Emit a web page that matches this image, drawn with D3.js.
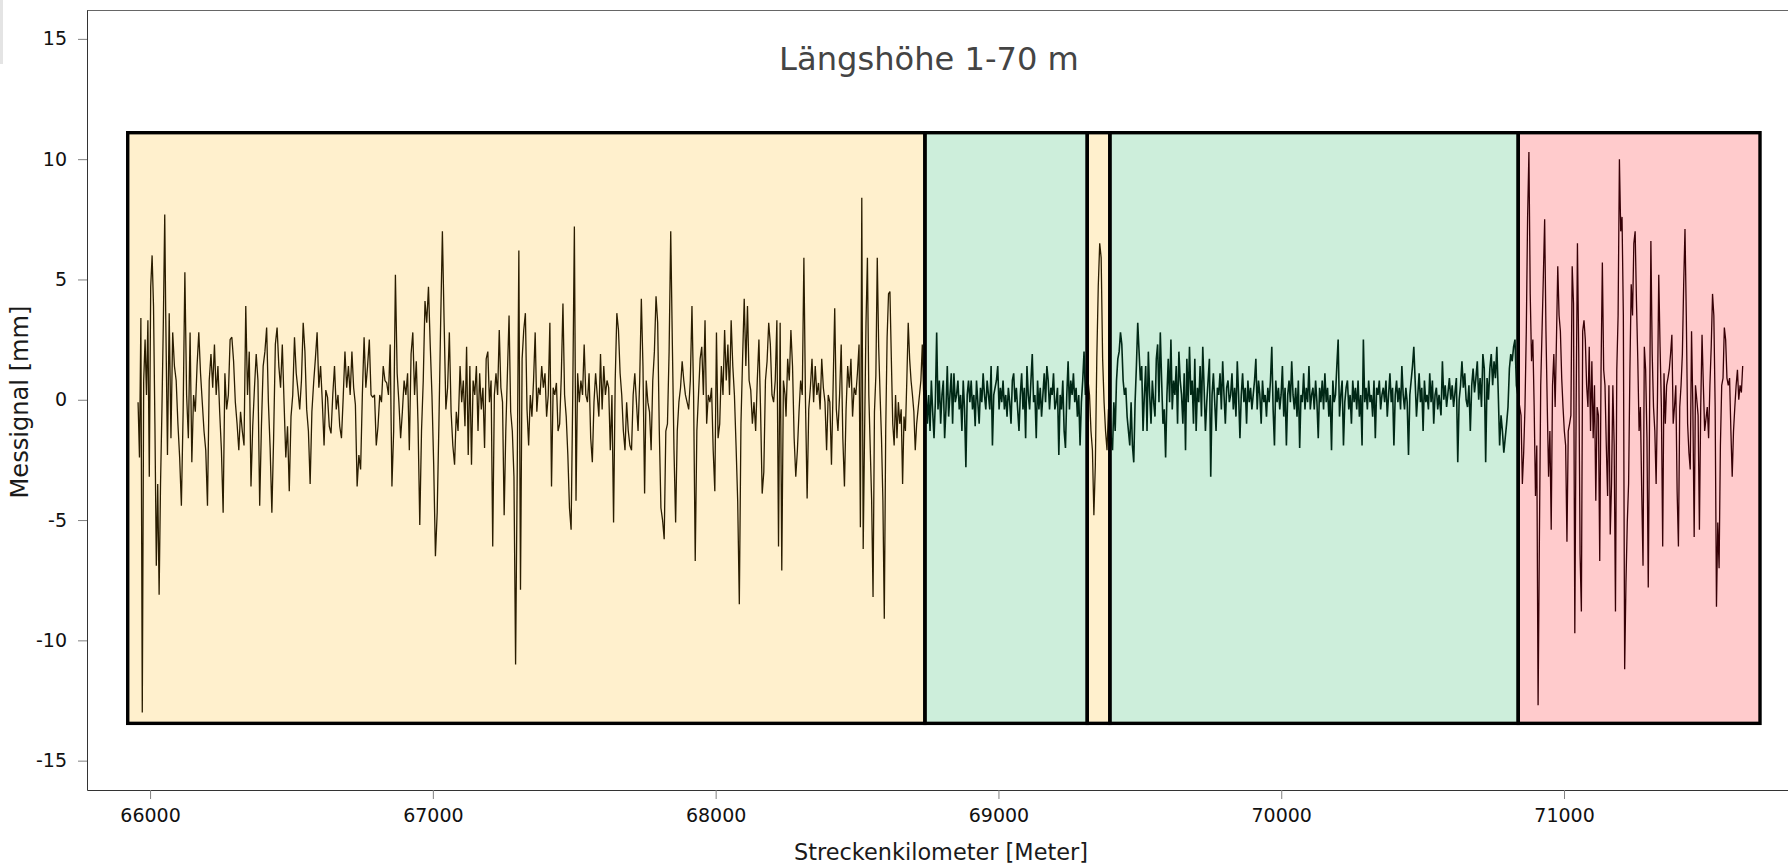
<!DOCTYPE html>
<html><head><meta charset="utf-8">
<script src="https://cdn.jsdelivr.net/npm/d3@7"></script>
<style>
html,body{margin:0;padding:0;background:#fff;overflow:hidden}
svg{display:block}
text{font-family:"DejaVu Sans",Verdana,sans-serif}
</style></head><body>
<svg id="chart" width="1788" height="866"></svg>
<script>
// ---------- texts & ticks ----------
const chartTitle = "Längshöhe 1-70 m";
const xTitle = "Streckenkilometer [Meter]";
const yTitle = "Messignal [mm]";
const xTicks = [66000, 67000, 68000, 69000, 70000, 71000];
const yTicks = [-15, -10, -5, 0, 5, 10, 15];
const xDomain = [65777, 71792];
const yDomain = [-16.22, 16.2];

// ---------- classified sections (Streckenabschnitte) ----------
const zoneStarts = [65921, 68740, 69314, 69394, 70838];
const zoneEnds   = [68740, 69314, 69394, 70838, 71693];
const zoneKinds  = ["gelb", "gruen", "gelb", "gruen", "rot"];
const zoneTop = 11.1;
const zoneBottom = -13.45;

// ---------- measured signal, in recorded sections [startKm, endKm] ----------
const sigA1 = [-0.1,-2.4,3.4,-13.0,0.8,2.5,0.2,3.3,-3.2,4.7,6.0,3.9,-1.0,-6.9,-3.5,-8.1,-3.5,-0.4,3.2,7.7];
const sigA2 = [3.5,-2.3,3.6,-1.6,2.8,1.4,0.8,-1.0,-2.4,-4.4,
-0.5,5.3,0.2,-1.6,2.8,-2.6,0.2,-0.5,1.4,2.8,
1.1,-0.1,-1.3,-2.1,-4.4,0.8,1.9,0.5,2.3,0.2,
1.4,-0.5,-2.1,-4.7,1.1,-0.4,0.2,2.5,2.6,1.6,
-0.1,-1.0,-2.1,-0.5,-1.3,-1.9,3.9,0.2,2.0,-3.6,
-1.1,0.5,1.9,0.8,-4.4,-1.1,1.4,2.0,3.0,-0.1,
-2.0,-4.7,-1.6,2.3,3.0,1.4,0.5,2.3,-0.1,-2.4,
-1.1,-3.8,-0.7,0.2,2.6,1.1,0.4,-0.4,0.8,3.2,
2.0,-0.4,-1.3,-3.5,-0.5,0.7,1.7,2.8,0.5,1.4,
-0.1,-1.9,0.4,0.1,-1.1,-1.4,0.2,1.4,-0.4,0.2,
-1.1,-1.6,0.1,2.0,0.5,1.4,0.2,2.0,0.5,-0.2,
-3.6,-2.3,-2.9,0.2,2.6,0.5,1.4,2.5,0.2,0.1,
0.2,-1.9,-1.1,0.2,-0.1,1.4,0.8,0.7,0.2,2.3,
-3.6,-1.3,5.2,1.1,-0.1,-1.6,-0.5,0.8,0.2,1.1,
-2.1,1.9,2.8,0.2,1.6,-1.0,-5.2,-1.3,0.8,4.1,
3.2,4.7,2.3,0.2,-2.7,-6.5,-4.7,-1.0,3.2,7.0,
3.2,-0.4,0.5,2.8,-0.5,-1.9,-2.7,-0.5,-1.3];
const sigB = [1.4,-0.1,0.8,-1.1,2.2,-2.3,1.4,-2.7,0.8,0.2,
1.4,-1.3,1.1,-0.4,0.5,-2.0,1.7,2.0,-0.1,0.8,
-6.1,0.2,1.1,0.2,2.9,0.5,-0.1,-4.8,-1.3,1.1,
3.5,-0.5,-1.3,-3.2,-11.0,-3.0,6.2,-7.9,1.7,2.9,
3.6,-0.4,-1.9,0.2,-0.7,0.8,2.8,-0.5,0.5,0.2,
1.4,0.5,1.1,-0.7,0.2,3.2,-3.6,0.5,0.2,0.7,
-1.3,-1.0,1.0,4.0,0.2,-0.7,-2.3,-4.5,-5.4,0.2,
7.2,-4.2,1.1,-0.1,0.8,0.2,2.3,0.2,-0.1,1.1,
-1.6,-2.6,-0.1,1.1,0.2,-0.7,1.9,-0.4,1.4,0.2,
0.8,0.5,-2.1,0.2,-5.1,0.8,3.6,2.9,1.1,0.2,
-1.3,-2.1,-0.1,-1.3,-1.9,-2.1,0.2,1.1,-0.1,-1.3,
0.8,4.2,1.4,-3.9,0.8,-0.1,-0.5,-2.1,0.8,2.0,
4.3,3.2,-1.3,-4.5,-5.0,-5.8,-1.3,-1.0,2.0,7.0,
2.3,-2.1,-5.1,-1.3,-0.1,0.5,1.6,0.8,0.2,-0.1,
-0.4,0.8,3.9,0.2,-6.7,-1.3,0.2,1.7,2.2,0.2,
3.3,-1.0,0.2,-0.1,0.5,-2.1,-3.8,2.8,-1.6,-1.0,
1.4,0.2,2.9,0.8,2.3,0.2,3.3,1.4,0.2,-1.9,
-4.2,-8.5,-1.0,1.7,4.2,1.4,3.9,0.8,0.4,-1.0,
-0.1,-1.3,0.8,2.5,-0.4,-3.9,-3.0,0.8,1.6,3.2,
2.3,0.2,-0.1,0.8,3.3,-6.1,3.2,-7.1,0.8,0.2];
const sigC1 = [-0.7,1.7,0.8,2.9,1.4,-1.6,-3.2,-2.1,-0.5,0.8,
0.2,5.9,-0.1,-4.1,-0.4,0.5,1.7,-0.1,1.4,0.2,
0.7,-0.4,1.7,0.5,-0.1,-2.1,0.2,-0.1,-2.7,0.5,
3.8,-0.4,-1.3,0.2,2.3,-1.6,-3.6,-0.4,1.4,0.5,
1.7,-0.7,0.5,0.2,1.1,2.3];
const sigC2 = [-5.3,8.4,-6.2,-1.3,3.2,5.9,0.2,-2.0,-4.2,-8.2,
-0.5,1.0,5.9,2.2,0.2,-1.6,-4.2,-9.1,-1.3,2.6,
4.4,4.5,1.7,-1.0,-1.9,0.2,-1.6,-0.1,-1.0,-0.4,
-3.5,-0.7,-1.3,0.8,3.2,1.7,0.8,0.2,-0.5,-2.1,
-1.0,-0.4,0.2,0.8,2.3,0.2];
const sigD = [0.4,-1.0,0.2,-1.3,0.8,-0.5,-1.6,-0.1,2.8,-0.4,
0.8,-1.0,0.2,0.8,-1.6,-0.4,1.4,-0.7,0.2,1.1,
-1.0,1.1,-0.1,0.2,0.8,-0.4,0.2,-1.3,0.8,-0.4,
-2.8,0.2,0.8,-0.1,0.8,-0.4,0.2,-1.1,0.8,-0.1,
-1.0,0.5,-0.1,1.1,0.2,-0.4,0.8,0.2,-0.4,1.4,
-1.9,0.2,0.5,0.8,1.4,-0.4,0.5,-0.1,0.8,-0.4,
0.2,-0.7,0.5,-0.1,-1.0,0.8,1.1,-0.1,0.5,-0.4,
-1.3,0.2,1.1,-0.4,0.5,-1.6,1.4,0.2,-0.4,0.8,
1.9,-0.1,0.2,-1.6,0.8,-0.4,0.5,-0.7,0.2,1.1,
-0.1,1.4,0.8,-0.4,0.5,0.2,1.1,-0.4,-0.1,0.5,
-2.3,0.2,-0.4,0.8,-1.3,-2.0,0.2,1.6,-0.4,0.8,
0.2,1.1,-0.1,0.5,-0.7,0.2,-1.9,-0.1,0.8,2.0,
0.2];
const sigE = [0.8,0.2,-1.3,-2.1,-4.8,-2.7,1.7,4.7,6.5,5.9,1.7,-0.1,-1.3,-2.1,-0.4];
const sigF = [-0.4,-1.6,-2.1,-0.1,-1.3,0.8,1.7,2.0,2.8,2.3,
0.8,0.2,0.5,-0.7,-1.3,-1.9,-0.1,-1.9,-2.6,-0.1,
1.4,3.2,2.0,0.8,1.4,-1.3,0.2,1.4,-1.3,2.0,
0.2,-1.0,0.8,-0.1,-0.7,1.7,2.3,-0.1,2.8,0.8,
-1.0,-0.4,-2.4,0.2,1.7,-0.1,2.5,-0.4,0.8,0.2,
1.4,-1.0,2.0,0.8,0.2,-1.0,1.1,-2.1,1.7,-0.1,
2.2,0.2,0.8,-1.0,1.7,-1.3,0.5,-0.1,1.4,-0.7,
2.2,0.5,-1.3,-0.1,0.8,1.7,-3.2,0.2,1.1,-0.1,
-1.3,0.5,0.2,1.1,-0.4,1.6,0.2,-1.0,0.5,0.8,
-0.1,0.2,1.1,-0.4,0.5,-0.7,1.6,0.2,-1.6,0.2,
1.1,-0.1,0.5,-1.0,0.8,-0.1,0.5,-0.4,0.2,0.8,
1.7,-0.4,0.8,0.2,-1.0,0.8,-0.1,0.2,-0.7,0.5,
-0.1,0.8,2.2,-0.4,-1.9,0.8,-0.1,0.5,-0.4,0.2,
1.4,-0.7,0.5,-1.9,0.2,0.8,-0.1,1.6,0.2,-0.4,
0.5,-0.7,0.8,-2.0,0.2,-0.1,1.1,-0.4,0.5,-0.1,
1.4,-0.4,0.2,0.5,-0.4,0.8,-0.1,-1.6,0.5,-0.1,
0.8,-0.4,1.1,-0.1,0.5,-0.7,0.2,-2.1,0.8,-0.1,
0.2,1.4,2.5,-0.7,0.2,0.8,-1.9,-0.1,0.5,0.8,
-0.4,0.2,-1.0,0.8,-0.1,0.5,-0.4,0.8,-0.7,0.2,
-1.9,2.5,-0.1,0.5,-0.4,0.8,-0.1,0.2,-0.7,0.8,
-1.6,0.5,0.2,0.8,-0.4,0.2,0.5,-0.1,0.8,-0.7,
0.2,1.1,-0.1,0.5,-1.9,0.2,0.8,-0.1,0.5,-0.4,
1.4,0.2,-0.4,0.5,-0.1,-2.3,0.2,0.8,1.4,2.2,
0.8,-0.7,0.2,1.1,-0.1,0.5,-1.3,0.8,-0.1,0.2,
-0.4,1.1,-0.1,0.8,-1.0,0.2,0.5,-0.4,0.2];
const sigG = [-0.65,1.6,0.0,0.6,-0.3,0.3,0.9,0.0,0.6,-0.3,
0.3,0.9,-2.6,0.0,0.6,1.6,0.5,1.1,0.0,-0.3,
0.6,-1.3,0.6,1.3,0.3,0.9,1.6,0.0,0.9,-0.3,
1.9,1.3,-2.6,0.9,0.0,1.3,1.9,0.6,1.6,0.9,
2.2,0.3,-1.9,-0.65,-1.3,-2.2,-1.6,-1.0,-0.3,1.3,
1.9,1.6,2.2,2.5,0.6];
const sigH = [-0.65,-3.5,-2.2,-0.3,2.85,7.6,10.3,4.4,1.6,2.5,
-0.3,-4.0,-1.9,-12.7,-5.7,0.6,2.85,5.1,7.5,2.85,
-0.3,-3.2,-1.3,-5.4,0.6,1.9,-0.3,2.5,5.55,3.5,
2.85,0.9,-0.3,-1.3,-1.9,-5.9,-1.3,-1.0,-0.65,5.55,
4.0,-9.7,-0.3,6.5,1.9,-6.4,-8.8,2.85,3.3,2.5,
0.6,-0.3,2.2,-1.3,1.6,-1.6,0.6,-4.2,-0.3,-0.65,
-6.7,1.25,5.7,1.25,0.6,-1.9,-4.0,0.6,-5.6,-3.5,
0.6,-1.9,-8.8,1.25,3.5,10.0,7.0,7.6,3.5,-11.2,
-7.6,-5.1,-3.5,1.25,4.8,3.5,6.5,7.0,4.1,1.7,
-1.3,-0.3,-3.8,-6.9,2.2,1.25,-1.6,-7.8,-0.65,6.6,
1.9,-0.3,-1.3,-3.5,0.0,5.2,2.2,-0.3,-6.1,1.1,
-1.0,0.6,0.9,1.25,1.9,2.7,-1.0,-0.3,0.6,-3.8,
-6.1,-0.3,0.6,1.9,4.8,7.1,3.5,-1.0,-2.2,-2.9,
2.85,-0.3,-5.7,0.6,0.0,-0.65,-5.4,-0.3,2.7,0.6,
-1.3,-0.8,-0.3,-1.6,0.6,2.2,4.4,3.5,-0.3,-8.6,
-5.1,-7.0,-1.9,0.6,0.9,3.0,2.5,0.9,0.6,0.9,
-1.3,-3.2,-1.3,-0.3,0.6,1.25,0.0,0.6,0.3,1.4];

const sectionStartKm = [65957.6, 66055.4, 67096.2, 68248.9, 68511.8, 68744.0, 69316.9, 69394.0, 70565.0, 70848.0];
const sectionEndKm   = [66051.9, 67089.1, 68245.4, 68507.1, 68735.7, 69307.4, 69389.0, 70558.0, 70831.5, 71631.8];
const sectionValues  = [sigA1, sigA2, sigB, sigC1, sigC2, sigD, sigE, sigF, sigG, sigH];

// ---------- styles ----------
const zoneFill  = {gelb: "#fff0cd", gruen: "#cdeedb", rot: "#ffcbcc"};
const zoneLine  = {gelb: "#2a1d00", gruen: "#002816", rot: "#360006"};
const zoneLineWidth = {gelb: 1.3, gruen: 1.6, rot: 1.3};

// ---------- build ----------
const points = [];
sectionValues.forEach((vals, i) => {
  const a = sectionStartKm[i], b = sectionEndKm[i], n = vals.length;
  vals.forEach((v, j) => points.push({km: a + (b - a) * j / (n - 1), v: v}));
});
const zones = zoneStarts.map((s, i) => ({from: s, to: zoneEnds[i], kind: zoneKinds[i]}));

const svg = d3.select("#chart");
const W = 1788, H = 866;
const pLeft = 87, pTop = 10, pBottom = 790;
const x = d3.scaleLinear().domain(xDomain).range([pLeft, W]);
const y = d3.scaleLinear().domain(yDomain).range([pBottom, pTop]);

svg.append("rect").attr("width", W).attr("height", H).attr("fill", "#fff");
// small grey strip at the top-left corner
svg.append("rect").attr("x", 0).attr("y", 0).attr("width", 3).attr("height", 64).attr("fill", "#e4e4e4");

// zone fills
svg.append("g").selectAll("rect").data(zones).join("rect")
  .attr("x", d => x(d.from)).attr("width", d => x(d.to) - x(d.from))
  .attr("y", y(zoneTop)).attr("height", y(zoneBottom) - y(zoneTop))
  .attr("fill", d => zoneFill[d.kind]);

// clip paths + signal line per zone
const defs = svg.append("defs");
zones.forEach((z, i) => {
  defs.append("clipPath").attr("id", "zc" + i).append("rect")
    .attr("x", x(z.from)).attr("width", x(z.to) - x(z.from))
    .attr("y", pTop).attr("height", pBottom - pTop);
});
const line = d3.line().x(d => x(d.km)).y(d => y(d.v));
zones.forEach((z, i) => {
  svg.append("path").datum(points)
    .attr("clip-path", "url(#zc" + i + ")")
    .attr("d", line).attr("fill", "none")
    .attr("stroke", zoneLine[z.kind]).attr("stroke-width", zoneLineWidth[z.kind])
    .attr("stroke-linejoin", "bevel");
});

// zone borders
svg.append("g").selectAll("rect").data(zones).join("rect")
  .attr("x", d => x(d.from)).attr("width", d => x(d.to) - x(d.from))
  .attr("y", y(zoneTop)).attr("height", y(zoneBottom) - y(zoneTop))
  .attr("fill", "none").attr("stroke", "#000").attr("stroke-width", 3.4);

// frame top line
svg.append("line").attr("x1", pLeft).attr("x2", W).attr("y1", pTop + 0.5).attr("y2", pTop + 0.5)
  .attr("stroke", "#666").attr("stroke-width", 1);

// axes
const fmt = d => String(d);
const gx = svg.append("g").attr("transform", `translate(0,${pBottom})`)
  .call(d3.axisBottom(x).tickValues(xTicks).tickFormat(fmt).tickSize(9).tickSizeOuter(0).tickPadding(10));
const gy = svg.append("g").attr("transform", `translate(${pLeft},0)`)
  .call(d3.axisLeft(y).tickValues(yTicks).tickFormat(fmt).tickSize(9).tickSizeOuter(0).tickPadding(11));
[gx, gy].forEach(g => {
  g.select(".domain").attr("stroke", "#333");
  g.selectAll(".tick line").attr("stroke", "#808080");
  g.selectAll(".tick text").attr("fill", "#111").attr("font-size", 19)
    .attr("font-family", '"DejaVu Sans",Verdana,sans-serif');
});

function fit(sel, target) {
  const w = sel.node().getComputedTextLength();
  const fs = parseFloat(sel.attr("font-size"));
  sel.attr("font-size", (fs * target / w).toFixed(2));
}

const t = svg.append("text").attr("x", 929).attr("y", 70).attr("text-anchor", "middle")
  .attr("fill", "#444").attr("font-size", 30).text(chartTitle);
fit(t, 300);

const xt = svg.append("text").attr("x", 941).attr("y", 860).attr("text-anchor", "middle")
  .attr("fill", "#1a1a1a").attr("font-size", 22).text(xTitle);
fit(xt, 294);

const yt = svg.append("text").attr("transform", "translate(28,402) rotate(-90)")
  .attr("text-anchor", "middle").attr("fill", "#1a1a1a").attr("font-size", 22).text(yTitle);
fit(yt, 193);
</script>
</body></html>
